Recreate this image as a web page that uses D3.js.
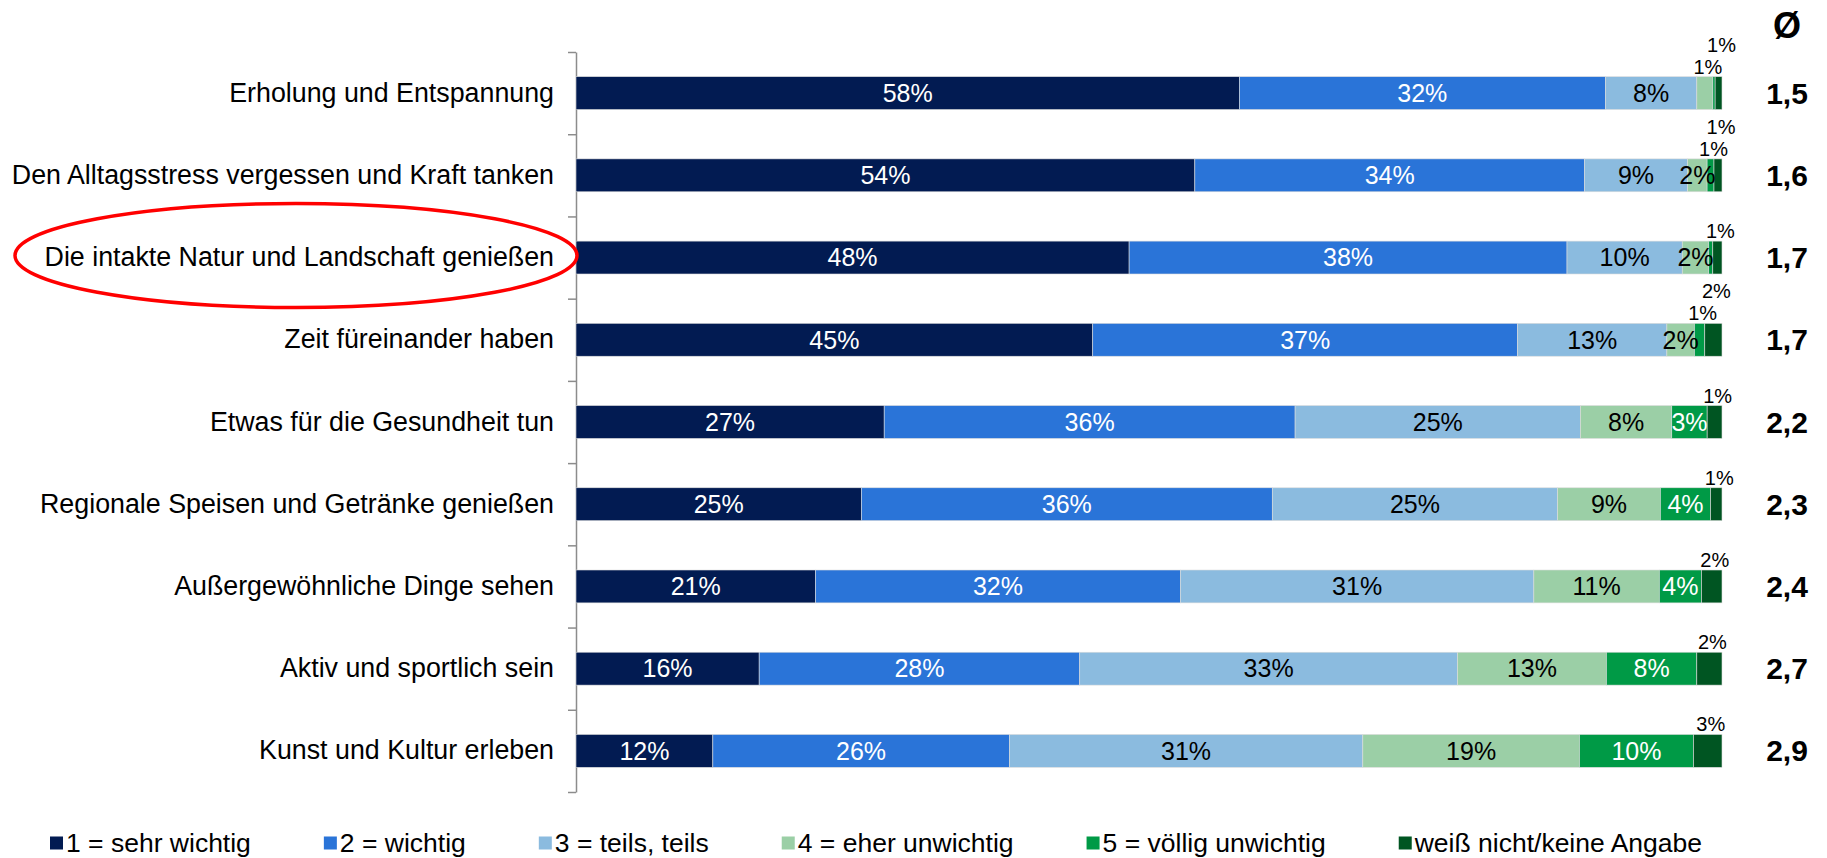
<!DOCTYPE html>
<html>
<head>
<meta charset="utf-8">
<script src="https://cdn.jsdelivr.net/npm/d3@7"></script>
<style>
  html, body { margin: 0; padding: 0; background: #fff; }
  svg { display: block; font-family: "Liberation Sans", Arial, sans-serif; }
</style>
</head>
<body>
<svg id="chart" width="1827" height="858"></svg>
<script>
// ---- data ----
const categories = [
  "Erholung und Entspannung",
  "Den Alltagsstress vergessen und Kraft tanken",
  "Die intakte Natur und Landschaft genießen",
  "Zeit füreinander haben",
  "Etwas für die Gesundheit tun",
  "Regionale Speisen und Getränke genießen",
  "Außergewöhnliche Dinge sehen",
  "Aktiv und sportlich sein",
  "Kunst und Kultur erleben"
];
const seriesNames = [
  "1 = sehr wichtig",
  "2 = wichtig",
  "3 = teils, teils",
  "4 = eher unwichtig",
  "5 = völlig unwichtig",
  "weiß nicht/keine Angabe"
];
const sehrWichtig   = [58, 54, 48, 45, 27, 25, 21, 16, 12];
const wichtig       = [32, 34, 38, 37, 36, 36, 32, 28, 26];
const teilsTeils    = [8, 9, 10, 13, 25, 25, 31, 33, 31];
const eherUnwichtig = [1.4, 1.7, 2.3, 2.4, 8, 9, 11, 13, 19];
const voelligUnwichtig = [0.2, 0.6, 0.35, 0.9, 3.1, 4.4, 3.7, 7.9, 10];
const weissNicht    = [0.6, 0.7, 0.8, 1.5, 1.3, 1.0, 1.8, 2.2, 2.5];
const averages      = [1.5, 1.6, 1.7, 1.7, 2.2, 2.3, 2.4, 2.7, 2.9];
const highlighted   = "Die intakte Natur und Landschaft genießen";

const colors = ["#021B52", "#2A74D8", "#8BBBDF", "#9BCFA6", "#009A46", "#005522"];
const labelColors = ["#fff", "#fff", "#000", "#000", "#fff", "#000"];

// ---- layout ----
const svg = d3.select("#chart");
const x0 = 576, x1 = 1722, yTop = 52, yBot = 792;
const seriesArrays = [sehrWichtig, wichtig, teilsTeils, eherUnwichtig, voelligUnwichtig, weissNicht];

const rows = categories.map((c, i) => {
  const vals = seriesArrays.map(a => a[i]);
  const total = d3.sum(vals);
  let cum = 0;
  const segs = vals.map((v, k) => {
    const s = { k, v, start: cum / total * 100, end: (cum + v) / total * 100 };
    cum += v;
    return s;
  });
  return { cat: c, i, segs };
});

const x = d3.scaleLinear().domain([0, 100]).range([x0, x1]);
const y = d3.scaleBand().domain(categories).range([yTop, yBot]).paddingInner(0.6).paddingOuter(0.3);
const yIdx = d3.scaleLinear().domain([0, categories.length]).range([yTop, yBot]);

// axis with ticks at band boundaries
const axisG = svg.append("g").attr("transform", `translate(${x0},0)`)
  .call(d3.axisLeft(yIdx).tickValues(d3.range(0, categories.length + 1)).tickFormat("").tickSize(8).tickSizeOuter(0));
axisG.select(".domain").attr("stroke", "#8c8c8c").attr("stroke-width", 1.5);
axisG.selectAll(".tick line").attr("stroke", "#8c8c8c").attr("stroke-width", 1.5);

// category labels
const labG = svg.append("g").attr("transform", `translate(${x0},0)`)
  .call(d3.axisLeft(y).tickSize(0).tickPadding(22));
labG.select(".domain").remove();
labG.selectAll(".tick text").attr("font-size", 26.8).attr("fill", "#000")
  .attr("font-family", '"Liberation Sans", Arial, sans-serif');

// bars
const rowG = svg.append("g").selectAll("g").data(rows).join("g");
rowG.selectAll("rect").data(d => d.segs.map(s => ({ ...s, cat: d.cat })))
  .join("rect")
  .attr("x", s => x(s.start))
  .attr("width", s => Math.max(0, x(s.end) - x(s.start)))
  .attr("y", s => y(s.cat))
  .attr("height", y.bandwidth())
  .attr("fill", s => colors[s.k])
  .attr("stroke", "#dcdcdc").attr("stroke-width", 0.6);

// value labels
rows.forEach(r => {
  const top = y(r.cat);
  const mid = top + y.bandwidth() / 2;
  const above = r.segs.filter(s => Math.round(s.v) > 0 && (s.k === 5 || s.v < 1.5));
  r.segs.forEach(s => {
    const lbl = Math.round(s.v);
    if (lbl <= 0) return;
    const cx = x((s.start + s.end) / 2) + 3;
    if (s.k === 5 || s.v < 1.5) {
      const idx = above.indexOf(s);
      const baseY = above.length > 1 ? (idx === 0 ? top - 3 : top - 25) : top - 3;
      svg.append("text").attr("x", cx).attr("y", baseY)
        .attr("text-anchor", "middle").attr("font-size", 20).attr("fill", "#000")
        .text(lbl + "%");
    } else {
      svg.append("text").attr("x", cx - 3).attr("y", mid).attr("dy", "0.35em")
        .attr("text-anchor", "middle").attr("font-size", 25).attr("fill", labelColors[s.k])
        .text(lbl + "%");
    }
  });
});

// averages
const avgX = 1787;
svg.append("text").attr("x", avgX).attr("y", 25).attr("dy", "0.35em")
  .attr("text-anchor", "middle").attr("font-size", 36).attr("font-weight", "bold").text("Ø");
const fmt = d3.format(".1f");
svg.append("g").selectAll("text").data(averages).join("text")
  .attr("x", avgX)
  .attr("y", (d, i) => y(categories[i]) + y.bandwidth() / 2)
  .attr("dy", "0.35em").attr("text-anchor", "middle")
  .attr("font-size", 30).attr("font-weight", "bold")
  .text(d => fmt(d).replace(".", ","));

// highlight ellipse
const hi = y(highlighted) + y.bandwidth() / 2;
svg.append("ellipse").attr("cx", 296).attr("cy", hi - 2).attr("rx", 281).attr("ry", 52)
  .attr("fill", "none").attr("stroke", "#ff0000").attr("stroke-width", 3.5);

// legend
const legY = 843;
let lx = 50;
const legG = svg.append("g");
seriesNames.forEach((name, k) => {
  const g = legG.append("g").attr("transform", `translate(${lx},${legY})`);
  g.append("rect").attr("x", 0).attr("y", -6.5).attr("width", 13).attr("height", 13).attr("fill", colors[k]);
  const t = g.append("text").attr("x", 16).attr("y", 0).attr("dy", "0.35em")
    .attr("font-size", 26.5).attr("fill", "#000").text(name);
  const w = t.node().getComputedTextLength();
  lx += 16 + w + 73;
});
</script>
</body>
</html>
